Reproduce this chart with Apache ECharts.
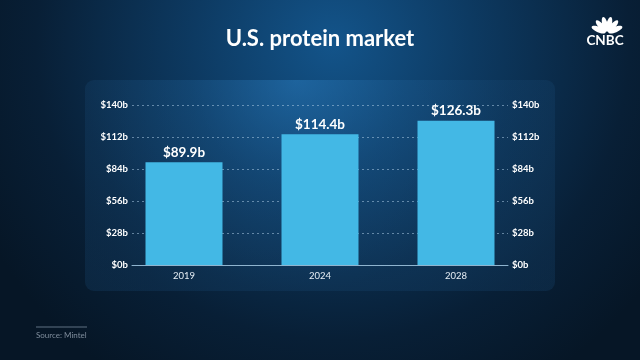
<!DOCTYPE html>
<html>
<head>
<meta charset="utf-8">
<script src="https://cdn.jsdelivr.net/npm/echarts@6/dist/echarts.min.js"></script>
<style>
html,body{margin:0;padding:0;background:#071a2c;}
#chart{width:640px;height:360px;}
</style>
</head>
<body>
<div id="chart"></div>
<script>
var titleText = 'U.S. protein market';
var categories = ['2019', '2024', '2028'];
var values = [89.9, 114.4, 126.3];
var valueLabels = ['$89.9b', '$114.4b', '$126.3b'];
var yTicks = [0, 28, 56, 84, 112, 140];
var sourceText = 'Source: Mintel';

var FONT = 'Lato, "Open Sans", sans-serif';
var chart = echarts.init(document.getElementById('chart'), null, {renderer: 'canvas'});

// peacock feathers
var feathers = [];
var angles = [-68, -41, -13.5, 13.5, 41, 68];
angles.forEach(function (deg) {
  var a = deg * Math.PI / 180;
  var len = 9;
  feathers.push({
    type: 'ellipse',
    x: 607 + len * Math.sin(a),
    y: 33 - len * Math.cos(a),
    rotation: -a,
    shape: {cx: 0, cy: 0, rx: 2.7, ry: 7.5},
    style: {fill: '#ffffff'},
    z: 10
  });
});

var option = {
  backgroundColor: {
    type: 'radial', x: 0.52, y: 0.12, r: 1.1,
    colorStops: [
      {offset: 0, color: '#13548a'},
      {offset: 0.35, color: '#0d3a62'},
      {offset: 0.75, color: '#081f36'},
      {offset: 1, color: '#061626'}
    ]
  },
  animation: false,
  graphic: [
    {
      type: 'rect', z: -10,
      shape: {x: 85, y: 80, width: 470, height: 211, r: 9},
      style: {
        fill: {
          type: 'radial', x: 0.45, y: 0.0, r: 1.0,
          colorStops: [
            {offset: 0, color: 'rgba(40,120,185,0.55)'},
            {offset: 0.5, color: 'rgba(30,95,150,0.35)'},
            {offset: 1, color: 'rgba(25,75,120,0.25)'}
          ]
        }
      }
    },
    {
      type: 'text', x: 320, y: 39,
      style: {text: titleText, fill: '#ffffff', font: 'bold 22px ' + FONT, align: 'center', verticalAlign: 'middle'}
    },
    {
      type: 'text', x: 605, y: 41,
      style: {text: 'CNBC', fill: '#ffffff', font: 'bold 13.5px ' + FONT, align: 'center', verticalAlign: 'middle'}
    },
    {
      type: 'line', shape: {x1: 36, y1: 327, x2: 87, y2: 327},
      style: {stroke: '#5f7082', lineWidth: 1}
    },
    {
      type: 'text', x: 36, y: 335,
      style: {text: sourceText, fill: '#7f8d9c', font: '8px ' + FONT, verticalAlign: 'middle'}
    }
  ].concat(feathers),
  grid: [
    {left: 132, right: 132, top: 105, bottom: 95},
    {left: 116, right: 116, top: 105, bottom: 95}
  ],
  xAxis: [
    {
      gridIndex: 0, type: 'value', min: 0, max: 1,
      axisLine: {show: true, lineStyle: {color: '#8fb4cf', width: 1}},
      axisTick: {show: false}, axisLabel: {show: false}, splitLine: {show: false}
    },
    {
      gridIndex: 1, type: 'category', data: categories,
      axisLine: {show: false}, axisTick: {show: false},
      axisLabel: {color: '#e6eef5', fontSize: 9.5, fontFamily: FONT, margin: 6}
    }
  ],
  yAxis: [
    {
      gridIndex: 0, type: 'value', min: 0, max: 140, interval: 28, position: 'left',
      axisLine: {show: false}, axisTick: {show: false},
      axisLabel: {color: '#ffffff', fontSize: 9.5, fontWeight: 'bold', fontFamily: FONT, margin: 4,
        formatter: function (v) { return '$' + v + 'b'; }},
      splitLine: {show: true, lineStyle: {color: 'rgba(170,200,225,0.55)', type: [2, 3], width: 1}}
    },
    {
      gridIndex: 0, type: 'value', min: 0, max: 140, interval: 28, position: 'right',
      axisLine: {show: false}, axisTick: {show: false},
      axisLabel: {color: '#ffffff', fontSize: 9.5, fontWeight: 'bold', fontFamily: FONT, margin: 4,
        formatter: function (v) { return '$' + v + 'b'; }},
      splitLine: {show: false}
    },
    {
      gridIndex: 1, type: 'value', min: 0, max: 140, interval: 28, show: false
    }
  ],
  series: [
    {
      type: 'bar', xAxisIndex: 1, yAxisIndex: 2,
      data: values, barWidth: 77,
      itemStyle: {color: '#43b8e5'},
      z: 5,
      label: {
        show: true, position: 'top', distance: 3,
        color: '#ffffff', fontSize: 13.5, fontWeight: 'bold', fontFamily: FONT,
        formatter: function (p) { return valueLabels[p.dataIndex]; }
      }
    }
  ]
};
chart.setOption(option);
</script>
</body>
</html>
